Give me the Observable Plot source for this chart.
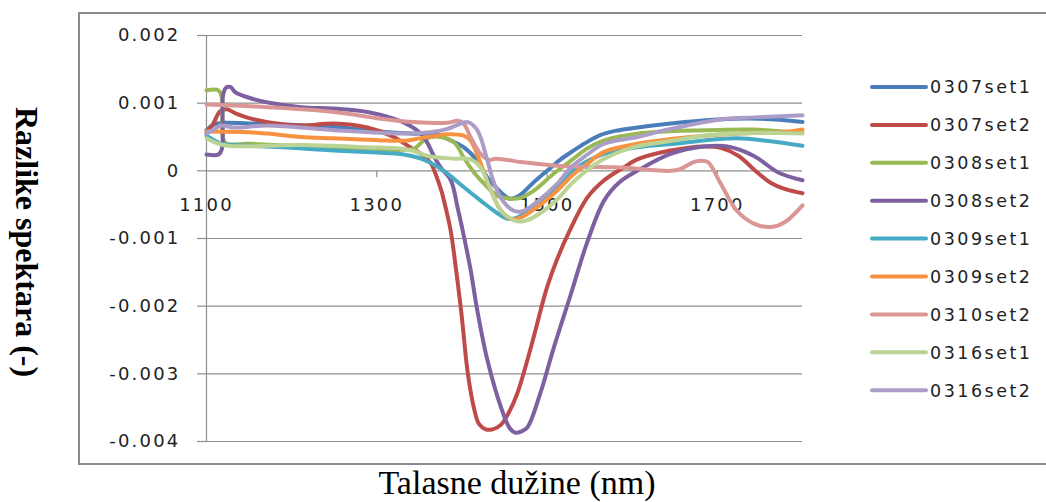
<!DOCTYPE html>
<html>
<head>
<meta charset="utf-8">
<script src="https://cdn.jsdelivr.net/npm/d3@7"></script>
<script src="https://cdn.jsdelivr.net/npm/@observablehq/plot@0.6"></script>
<style>
  body { margin: 0; background: #fff; }
  #chart { position: relative; width: 1046px; height: 502px; }
</style>
</head>
<body>
<div id="chart"></div>
<script>
// Spectral differences per sample set; points are [wavelength nm, difference ×10⁻³]
const seriesNames = ["0307set1", "0307set2", "0308set1", "0308set2", "0309set1", "0309set2", "0310set2", "0316set1", "0316set2"];
const seriesColors = ["#4A7EBB", "#BE4B48", "#98B954", "#7D60A0", "#46AAC5", "#F69240", "#D99694", "#BBD394", "#AC9DC8"];

const s0307set1 = [[1100,0.60],[1108,0.68],[1120,0.71],[1150,0.70],[1200,0.68],[1250,0.65],[1300,0.58],[1340,0.55],[1370,0.54],[1383,0.47],[1402,0.35],[1418,0.15],[1430,-0.10],[1446,-0.32],[1456,-0.41],[1468,-0.36],[1485,-0.16],[1500,0.00],[1516,0.17],[1530,0.29],[1545,0.41],[1563,0.53],[1580,0.59],[1600,0.63],[1645,0.70],[1700,0.76],[1750,0.77],[1800,0.72]];
const s0307set2 = [[1100,0.56],[1108,0.70],[1116,0.88],[1124,0.91],[1134,0.85],[1150,0.78],[1172,0.72],[1211,0.67],[1250,0.70],[1289,0.64],[1320,0.50],[1340,0.34],[1352,0.25],[1363,0.12],[1370,-0.08],[1376,-0.30],[1381,-0.55],[1387,-0.90],[1393,-1.45],[1399,-2.06],[1407,-3.00],[1414,-3.50],[1420,-3.74],[1428,-3.82],[1436,-3.82],[1446,-3.75],[1456,-3.55],[1465,-3.29],[1481,-2.61],[1500,-1.72],[1512,-1.30],[1526,-0.90],[1547,-0.40],[1567,-0.14],[1590,0.05],[1606,0.17],[1645,0.30],[1684,0.36],[1704,0.34],[1725,0.22],[1743,0.02],[1763,-0.18],[1780,-0.27],[1800,-0.33]];
const s0308set1 = [[1100,1.19],[1114,1.19],[1118,1.08],[1119.5,0.47],[1124,0.40],[1150,0.40],[1211,0.36],[1289,0.33],[1328,0.31],[1344,0.33],[1355,0.45],[1363,0.50],[1375,0.50],[1391,0.42],[1402,0.20],[1414,-0.02],[1426,-0.19],[1442,-0.37],[1454,-0.41],[1469,-0.40],[1485,-0.29],[1508,-0.04],[1528,0.15],[1547,0.33],[1567,0.45],[1606,0.55],[1684,0.60],[1743,0.61],[1800,0.56]];
const s0308set2 = [[1100,0.24],[1114,0.24],[1118,0.32],[1119.5,1.12],[1123,1.23],[1128,1.24],[1134,1.16],[1150,1.08],[1172,1.01],[1211,0.94],[1250,0.92],[1289,0.87],[1320,0.77],[1340,0.66],[1352,0.55],[1360,0.40],[1367,0.22],[1375,0.05],[1387,-0.14],[1395,-0.55],[1402,-0.95],[1410,-1.45],[1418,-2.06],[1430,-2.80],[1446,-3.50],[1456,-3.80],[1463,-3.87],[1470,-3.85],[1477,-3.79],[1492,-3.29],[1508,-2.61],[1528,-1.82],[1547,-1.06],[1567,-0.44],[1585,-0.17],[1606,0.00],[1645,0.25],[1684,0.36],[1712,0.36],[1743,0.22],[1771,-0.02],[1800,-0.14]];
const s0309set1 = [[1100,0.52],[1108,0.46],[1117,0.40],[1150,0.37],[1200,0.34],[1250,0.30],[1300,0.27],[1328,0.25],[1350,0.19],[1363,0.12],[1383,-0.04],[1402,-0.24],[1422,-0.44],[1442,-0.63],[1454,-0.71],[1465,-0.69],[1481,-0.57],[1500,-0.37],[1516,-0.17],[1528,-0.02],[1547,0.14],[1567,0.25],[1606,0.35],[1650,0.40],[1684,0.45],[1723,0.48],[1760,0.44],[1800,0.37]];
const s0309set2 = [[1100,0.58],[1150,0.57],[1172,0.55],[1211,0.50],[1250,0.48],[1305,0.45],[1336,0.45],[1350,0.48],[1371,0.52],[1383,0.54],[1402,0.52],[1410,0.45],[1422,0.11],[1434,-0.29],[1446,-0.59],[1457,-0.71],[1469,-0.69],[1488,-0.54],[1512,-0.29],[1530,-0.06],[1545,0.08],[1567,0.28],[1606,0.40],[1645,0.47],[1684,0.52],[1743,0.56],[1777,0.57],[1800,0.61]];
const s0310set2 = [[1100,0.98],[1172,0.94],[1250,0.87],[1305,0.77],[1344,0.72],[1383,0.71],[1395,0.74],[1402,0.70],[1410,0.50],[1422,0.25],[1432,0.16],[1440,0.18],[1469,0.13],[1508,0.08],[1540,0.06],[1587,0.05],[1645,0.00],[1657,0.03],[1672,0.13],[1680,0.15],[1689,0.13],[1704,-0.19],[1723,-0.59],[1743,-0.78],[1763,-0.83],[1779,-0.76],[1800,-0.51]];
const s0316set1 = [[1100,0.48],[1110,0.42],[1125,0.37],[1211,0.38],[1289,0.35],[1328,0.33],[1344,0.29],[1360,0.22],[1391,0.18],[1410,0.17],[1422,0.05],[1434,-0.29],[1446,-0.59],[1461,-0.73],[1470,-0.75],[1477,-0.73],[1496,-0.59],[1512,-0.42],[1532,-0.15],[1563,0.15],[1602,0.35],[1645,0.44],[1684,0.52],[1743,0.56],[1800,0.55]];
const s0316set2 = [[1100,0.55],[1110,0.62],[1117,0.67],[1132,0.64],[1172,0.67],[1250,0.60],[1328,0.55],[1363,0.57],[1383,0.62],[1399,0.70],[1407,0.72],[1418,0.60],[1430,0.15],[1438,-0.19],[1449,-0.46],[1461,-0.59],[1470,-0.60],[1477,-0.56],[1492,-0.42],[1512,-0.19],[1528,0.05],[1545,0.22],[1567,0.40],[1606,0.50],[1645,0.62],[1704,0.76],[1743,0.79],[1800,0.82]];

const xTicks = [1100, 1300, 1500, 1700];
const yTicks = [0.002, 0.001, 0, -0.001, -0.002, -0.003, -0.004];
const yTickLabels = ["0.002", "0.001", "0", "-0.001", "-0.002", "-0.003", "-0.004"];
const xTitle = "Talasne dužine (nm)";
const yTitle = "Razlike spektara (-)";
const xAxisCross = 0;

// Long-format table for the line mark
const seriesPoints = [s0307set1, s0307set2, s0308set1, s0308set2, s0309set1, s0309set2, s0310set2, s0316set1, s0316set2];
const rows = [];
seriesPoints.forEach((pts, i) => {
  pts.forEach(([nm, v]) => rows.push({series: seriesNames[i], nm, v: v / 1000}));
});
const yLabel = new Map(yTicks.map((t, i) => [t, yTickLabels[i]]));

const grid = "#8e8e8e";
const ink = "#222";

const chart = Plot.plot({
  width: 1046,
  height: 502,
  marginLeft: 206,
  marginRight: 244,
  marginTop: 35,
  marginBottom: 61,
  style: {background: "#fff", fontFamily: "'DejaVu Sans', sans-serif", overflow: "visible"},
  x: {domain: [1100, 1800], axis: null},
  y: {domain: [-0.004, 0.002]},
  color: {domain: seriesNames, range: seriesColors},
  marks: [
    Plot.gridY(yTicks, {stroke: grid, strokeOpacity: 1, strokeWidth: 1.2}),
    Plot.axisY(yTicks, {
      tickSize: 9, tickPadding: 17, stroke: grid, strokeWidth: 1.2,
      tickFormat: d => yLabel.get(d), fontSize: 18, fill: ink, label: null
    }),
    Plot.ruleX([1100], {stroke: grid, strokeWidth: 1.2}),
    Plot.ruleX(xTicks.slice(1), {x: d => d, y1: () => xAxisCross, y2: () => xAxisCross, insetBottom: -7, stroke: grid, strokeWidth: 1.2}),
    Plot.text(xTicks, {x: d => d, y: () => xAxisCross, text: d => String(d), dy: 34, fontSize: 18, fill: ink}),
    Plot.line(rows, {x: "nm", y: "v", z: "series", stroke: "series", strokeWidth: 4, curve: "catmull-rom"})
  ]
});

document.getElementById("chart").appendChild(chart);

const svg = d3.select(chart);
svg.selectAll('g[aria-label="y-axis tick label"] text, g[aria-label="text"] text')
  .style("letter-spacing", "2.2px");

// Outer chart-area border
svg.append("rect")
  .attr("x", 79).attr("y", 13).attr("width", 1000).attr("height", 451)
  .attr("fill", "none").attr("stroke", "#8a8a8a").attr("stroke-width", 2);

// Axis titles
svg.append("text")
  .attr("transform", "translate(16,242) rotate(90)")
  .attr("text-anchor", "middle")
  .style("font-family", "'Liberation Serif', serif")
  .style("font-weight", "bold")
  .style("font-size", "32px")
  .attr("fill", "#000")
  .text(yTitle);

svg.append("text")
  .attr("x", 517).attr("y", 494)
  .attr("text-anchor", "middle")
  .style("font-family", "'Liberation Serif', serif")
  .style("font-size", "34px")
  .attr("fill", "#000")
  .text(xTitle);

// Legend on the right
const color = chart.scale("color");
const legend = svg.append("g").attr("text-anchor", "start");
seriesNames.forEach((name, i) => {
  const y = 87 + i * 37.9;
  legend.append("line")
    .attr("x1", 872).attr("x2", 926).attr("y1", y).attr("y2", y)
    .attr("stroke", color.apply(name)).attr("stroke-width", 4).attr("stroke-linecap", "round");
  legend.append("text")
    .attr("x", 930).attr("y", y).attr("dy", "0.36em")
    .attr("text-anchor", "start")
    .style("font-family", "'DejaVu Sans', sans-serif")
    .style("font-size", "17.5px")
    .style("letter-spacing", "2.5px")
    .attr("fill", ink)
    .text(name);
});
</script>
</body>
</html>
